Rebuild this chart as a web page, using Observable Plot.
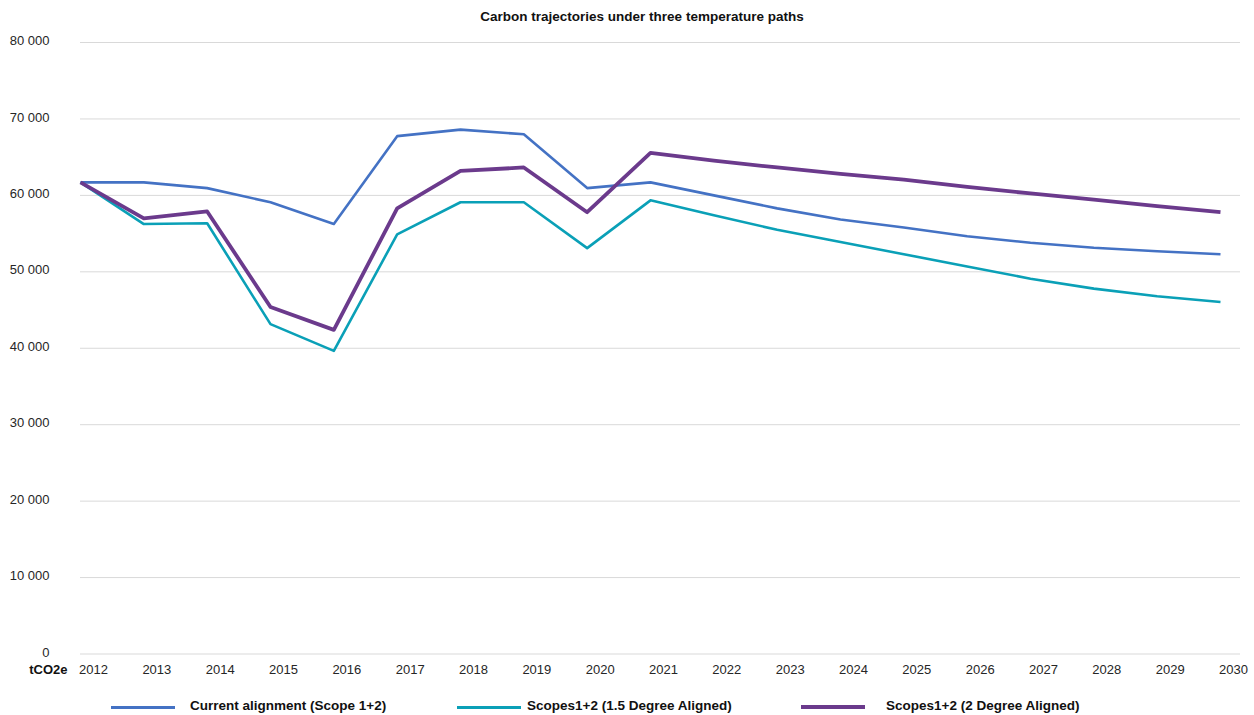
<!DOCTYPE html>
<html>
<head>
<meta charset="utf-8">
<script src="https://cdn.jsdelivr.net/npm/d3@7"></script>
<script src="https://cdn.jsdelivr.net/npm/@observablehq/plot@0.6"></script>
<style>
  html, body { margin: 0; padding: 0; background: #fff; }
  #wrap { position: relative; width: 1254px; height: 715px; font-family: "Liberation Sans", Arial, sans-serif; color: #262626; }
  #title { position: absolute; top: 9px; left: 0; width: 1284px; text-align: center; font-size: 13.5px; font-weight: bold; color: #111; }
  #chart { position: absolute; top: 30px; left: 0; }
  #legend { position: absolute; top: 690px; left: 0; width: 1254px; height: 25px; }
  .sw { position: absolute; top: 16px; height: 3px; }
  .lt { position: absolute; top: 8px; font-size: 13.5px; font-weight: bold; color: #111; white-space: nowrap; }
</style>
</head>
<body>
<div id="wrap">
  <div id="title">Carbon trajectories under three temperature paths</div>
  <div id="chart"></div>
  <div id="legend"></div>
</div>
<script>
// Years on the horizontal axis
const years = [2012, 2013, 2014, 2015, 2016, 2017, 2018, 2019, 2020, 2021,
               2022, 2023, 2024, 2025, 2026, 2027, 2028, 2029, 2030];

// Emissions in tCO2e for each path
const currentAlignment = [61700, 61700, 60950, 59100, 56250, 67750, 68600, 68000, 60950, 61700,
                          60000, 58300, 56850, 55800, 54650, 53800, 53150, 52700, 52300];
const aligned15 = [61700, 56250, 56350, 43150, 39650, 54900, 59100, 59100, 53100, 59350,
                   57400, 55500, 53900, 52300, 50700, 49100, 47800, 46800, 46050];
const aligned2 = [61700, 57000, 57900, 45400, 42400, 58300, 63200, 63650, 57800, 65550,
                  64550, 63650, 62800, 62050, 61100, 60250, 59450, 58600, 57800];

const seriesNames = ["Current alignment (Scope 1+2)", "Scopes1+2 (1.5 Degree Aligned)", "Scopes1+2 (2 Degree Aligned)"];
const seriesColors = ["#4472c4", "#0aa0b7", "#6b3a8c"];
const seriesWidths = [2.6, 2.6, 3.8];

const yTicks = [0, 10000, 20000, 30000, 40000, 50000, 60000, 70000, 80000];

const seriesValues = [currentAlignment, aligned15, aligned2];
const rows = seriesValues.map((vals, s) => years.map((yr, i) => ({series: seriesNames[s], year: yr, value: vals[i]})));

const fmt = d => d3.format(",")(d).replace(/,/g, " ");

const chart = Plot.plot({
  width: 1254,
  height: 660,
  marginTop: 12,
  marginBottom: 36.5,
  marginLeft: 80,
  marginRight: 14,
  style: {fontFamily: "Liberation Sans, Arial, sans-serif", fontSize: "13px", color: "#262626", background: "#fff"},
  x: {type: "linear", domain: [2012, 2030.316]},
  y: {domain: [0, 80000]},
  marks: [
    Plot.gridY(yTicks, {stroke: "#d9d9d9", strokeOpacity: 1, strokeWidth: 1}),
    Plot.axisY({ticks: yTicks, tickSize: 0, tickPadding: 31, dy: -1.5, tickFormat: fmt, label: null, fontSize: 13}),
    Plot.axisX({ticks: years, tickSize: 0, tickPadding: 11, dx: 13, tickFormat: d => String(d), label: null, fontSize: 13}),
    Plot.text(["tCO2e"], {frameAnchor: "bottom-left", textAnchor: "end", dx: -13, dy: 19.5, fontWeight: "bold", fontSize: 13, fill: "#111"}),
    ...rows.map((data, s) => Plot.line(data, {
      x: "year", y: "value",
      stroke: seriesColors[s], strokeWidth: seriesWidths[s],
      strokeLinejoin: "round", strokeLinecap: "butt"
    }))
  ]
});
document.getElementById("chart").appendChild(chart);

// Legend below the chart
const legendPos = [{sw: 111, tx: 190}, {sw: 457, tx: 527}, {sw: 801, tx: 886}];
const legend = document.getElementById("legend");
seriesNames.forEach((name, i) => {
  const sw = document.createElement("div");
  sw.className = "sw";
  sw.style.left = legendPos[i].sw + "px";
  sw.style.width = "64px";
  sw.style.background = seriesColors[i];
  if (i === 2) { sw.style.height = "4px"; sw.style.top = "15px"; }
  legend.appendChild(sw);
  const t = document.createElement("div");
  t.className = "lt";
  t.style.left = legendPos[i].tx + "px";
  t.textContent = name;
  legend.appendChild(t);
});
</script>
</body>
</html>
